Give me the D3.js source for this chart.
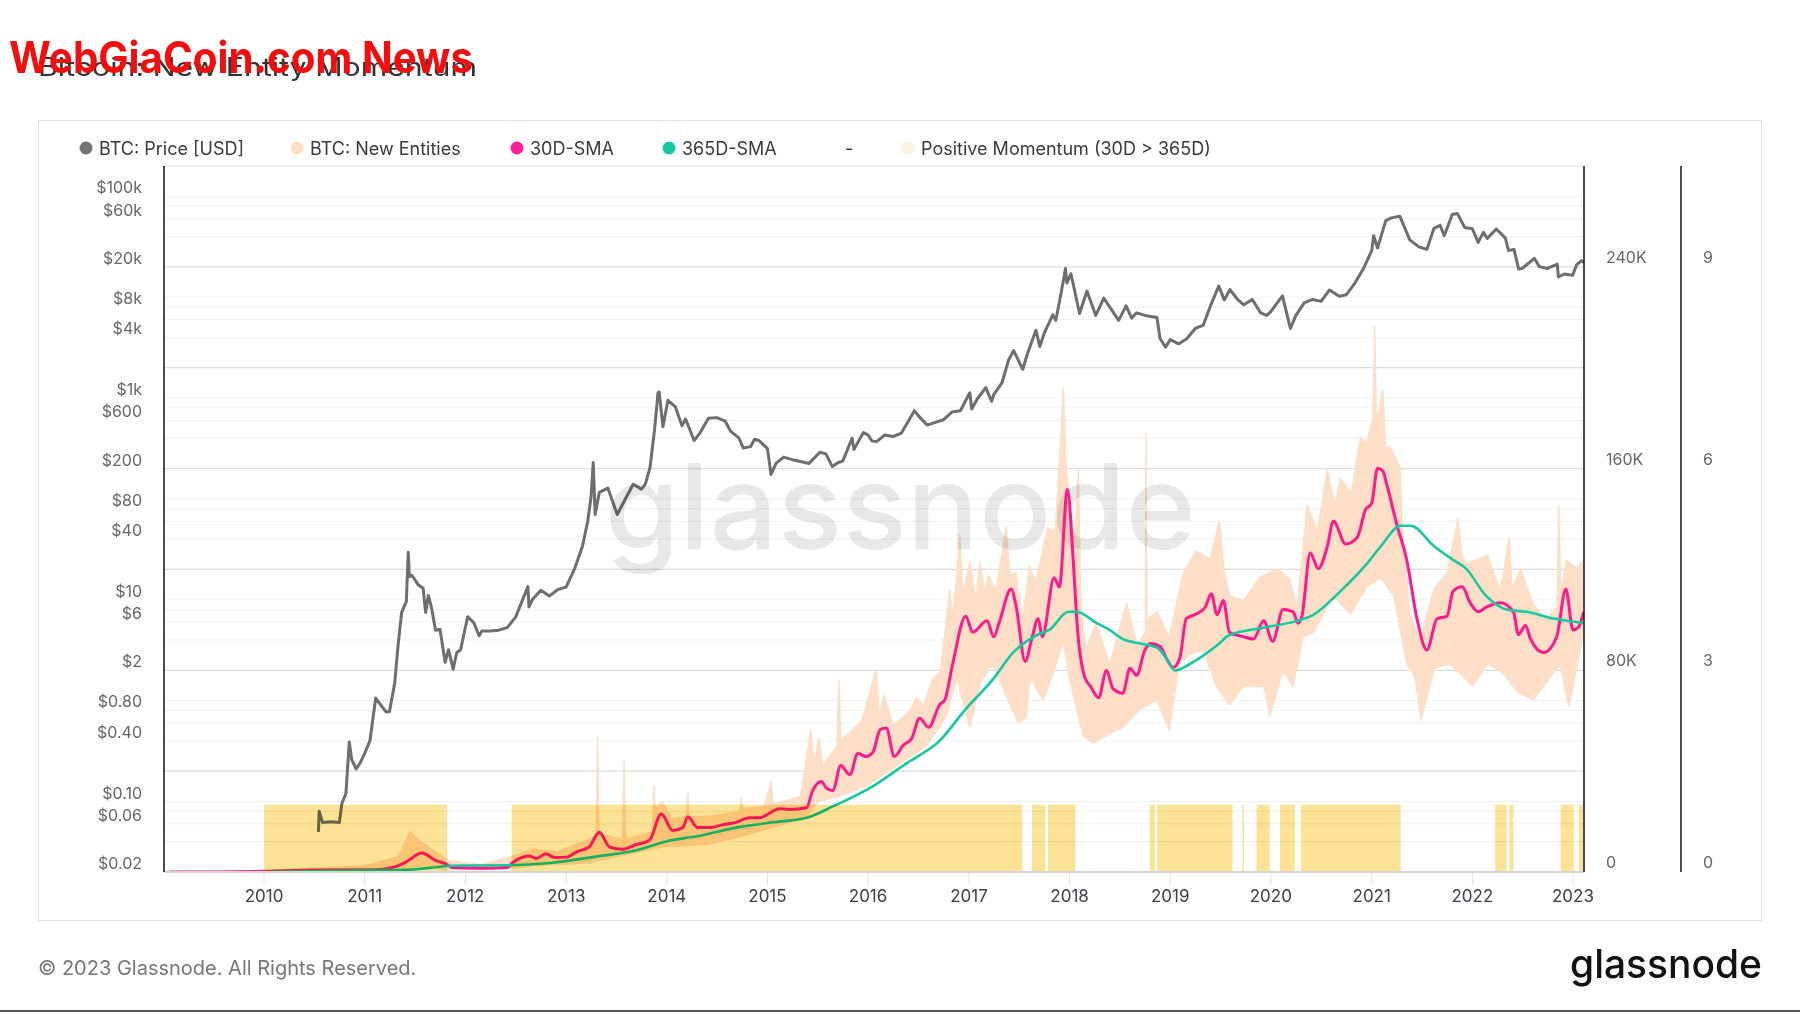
<!DOCTYPE html>
<html>
<head>
<meta charset="utf-8">
<script src="https://cdn.jsdelivr.net/npm/d3@7"></script>
<style>
  body { margin: 0; background: #fff; }
  text { font-family: Inter, "Noto Sans", sans-serif; }
</style>
</head>
<body>
<svg id="chart" width="1800" height="1013"></svg>
<script>
// BTC price [USD]
const price = [
  ["2010-07-17", 0.05], ["2010-07-20", 0.08], ["2010-08-01", 0.062], ["2010-09-01", 0.063], ["2010-10-01", 0.062],
  ["2010-10-10", 0.095], ["2010-10-25", 0.12], ["2010-11-06", 0.39], ["2010-11-15", 0.26], ["2010-12-01", 0.21],
  ["2010-12-15", 0.24], ["2011-01-01", 0.30], ["2011-01-20", 0.40], ["2011-02-10", 1.06], ["2011-03-01", 0.90],
  ["2011-03-20", 0.77], ["2011-04-01", 0.78], ["2011-04-20", 1.5], ["2011-05-01", 3.3], ["2011-05-15", 7.5],
  ["2011-06-01", 9.6], ["2011-06-08", 29.6], ["2011-06-12", 17], ["2011-06-20", 17.5], ["2011-07-01", 16],
  ["2011-07-15", 14], ["2011-08-01", 13], ["2011-08-10", 7.5], ["2011-08-20", 11], ["2011-09-01", 8.2],
  ["2011-09-15", 5.0], ["2011-10-01", 5.1], ["2011-10-20", 2.4], ["2011-11-01", 3.2], ["2011-11-18", 2.05],
  ["2011-12-01", 3.0], ["2011-12-15", 3.2], ["2012-01-01", 5.3], ["2012-01-10", 6.8], ["2012-02-01", 5.9],
  ["2012-02-20", 4.4], ["2012-03-01", 4.9], ["2012-04-01", 4.9], ["2012-05-01", 5.0], ["2012-06-01", 5.3],
  ["2012-07-01", 6.7], ["2012-08-15", 13.5], ["2012-08-19", 8.5], ["2012-09-01", 10.1], ["2012-10-01", 12.4],
  ["2012-11-01", 10.9], ["2012-12-01", 12.6], ["2013-01-01", 13.4], ["2013-02-01", 20.5], ["2013-03-01", 34],
  ["2013-03-20", 60], ["2013-04-01", 104], ["2013-04-09", 230], ["2013-04-16", 70], ["2013-05-01", 116],
  ["2013-06-01", 128], ["2013-07-05", 70], ["2013-08-01", 97], ["2013-09-01", 140], ["2013-10-01", 125],
  ["2013-10-15", 140], ["2013-11-01", 205], ["2013-11-18", 500], ["2013-11-30", 1130], ["2013-12-04", 1150],
  ["2013-12-18", 520], ["2014-01-05", 950], ["2014-02-01", 820], ["2014-02-25", 530], ["2014-03-10", 620],
  ["2014-04-10", 380], ["2014-05-01", 450], ["2014-06-01", 630], ["2014-07-01", 640], ["2014-08-01", 590],
  ["2014-08-20", 470], ["2014-09-20", 400], ["2014-10-05", 320], ["2014-11-01", 330], ["2014-11-15", 390],
  ["2014-12-01", 380], ["2015-01-01", 315], ["2015-01-14", 175], ["2015-02-01", 225], ["2015-03-01", 260],
  ["2015-04-01", 245], ["2015-05-01", 235], ["2015-06-01", 225], ["2015-07-10", 290], ["2015-08-01", 280],
  ["2015-08-24", 210], ["2015-09-15", 230], ["2015-10-01", 237], ["2015-11-04", 400], ["2015-11-11", 310],
  ["2015-12-15", 455], ["2016-01-01", 430], ["2016-01-15", 375], ["2016-02-01", 370], ["2016-03-01", 430],
  ["2016-04-01", 416], ["2016-05-01", 450], ["2016-06-17", 750], ["2016-07-01", 670], ["2016-08-02", 540],
  ["2016-09-01", 575], ["2016-10-01", 610], ["2016-11-01", 730], ["2016-12-01", 750], ["2017-01-04", 1130],
  ["2017-01-11", 780], ["2017-02-01", 990], ["2017-03-03", 1270], ["2017-03-24", 930], ["2017-04-01", 1080],
  ["2017-05-01", 1420], ["2017-05-25", 2400], ["2017-06-12", 2950], ["2017-07-15", 1930], ["2017-08-01", 2750],
  ["2017-09-01", 4700], ["2017-09-15", 3250], ["2017-10-01", 4400], ["2017-11-01", 6700], ["2017-11-12", 5900],
  ["2017-12-01", 10900], ["2017-12-17", 19300], ["2017-12-22", 13800], ["2018-01-06", 17100], ["2018-02-06", 6900],
  ["2018-03-05", 11500], ["2018-04-06", 6600], ["2018-05-05", 9800], ["2018-06-28", 5900], ["2018-07-25", 8200],
  ["2018-08-14", 6200], ["2018-09-01", 7000], ["2018-10-01", 6600], ["2018-11-14", 6300], ["2018-11-25", 3900],
  ["2018-12-15", 3200], ["2019-01-01", 3800], ["2019-02-01", 3450], ["2019-03-01", 3850], ["2019-04-02", 4900],
  ["2019-05-01", 5300], ["2019-05-30", 8600], ["2019-06-26", 12900], ["2019-07-16", 9400], ["2019-08-06", 11900],
  ["2019-09-01", 9600], ["2019-09-25", 8400], ["2019-10-26", 9500], ["2019-11-25", 7000], ["2019-12-17", 6600],
  ["2020-01-01", 7200], ["2020-02-12", 10300], ["2020-03-12", 4900], ["2020-04-01", 6600], ["2020-05-01", 8800],
  ["2020-06-01", 9500], ["2020-07-01", 9100], ["2020-08-01", 11800], ["2020-09-05", 10200], ["2020-10-01", 10600],
  ["2020-11-01", 13800], ["2020-12-01", 19000], ["2021-01-01", 29000], ["2021-01-08", 40700], ["2021-01-22", 30800],
  ["2021-02-21", 57500], ["2021-03-13", 61200], ["2021-04-13", 63500], ["2021-05-19", 37000], ["2021-06-21", 31600],
  ["2021-07-20", 29800], ["2021-08-14", 47800], ["2021-09-06", 51700], ["2021-09-21", 40700], ["2021-10-20", 66000],
  ["2021-11-08", 67500], ["2021-12-04", 49200], ["2022-01-01", 47700], ["2022-01-22", 35000], ["2022-02-10", 44000],
  ["2022-02-24", 38300], ["2022-03-29", 47400], ["2022-05-01", 38500], ["2022-05-12", 29000], ["2022-06-01", 29800],
  ["2022-06-18", 19000], ["2022-07-01", 19300], ["2022-08-14", 24300], ["2022-09-01", 20100], ["2022-10-01", 19300],
  ["2022-11-05", 21300], ["2022-11-09", 15900], ["2022-12-01", 17000], ["2022-12-31", 16550], ["2023-01-14", 20900],
  ["2023-02-01", 23100], ["2023-02-09", 22000]
];

// BTC: New Entities, daily noise drawn as an upper / lower envelope
const entHigh = [
  ["2009-01-03", 200], ["2010-01-01", 500], ["2010-07-01", 1500], ["2011-01-01", 2500], ["2011-05-01", 6000],
  ["2011-06-15", 16000], ["2011-07-25", 12000], ["2011-09-01", 9000], ["2011-11-01", 4500], ["2012-03-01", 3000],
  ["2012-06-15", 6000], ["2012-09-01", 9000], ["2012-12-01", 8000], ["2013-03-01", 12000], ["2013-04-20", 14000],
  ["2013-04-25", 53500], ["2013-04-30", 15000], ["2013-07-25", 13000], ["2013-07-30", 44000], ["2013-08-04", 13000],
  ["2013-11-10", 16000], ["2013-11-15", 34100], ["2013-11-20", 25000], ["2013-12-15", 28000], ["2014-01-20", 21000],
  ["2014-03-13", 22000], ["2014-03-18", 31400], ["2014-03-23", 22000], ["2014-06-01", 22000], ["2014-09-23", 24000],
  ["2014-09-28", 29600], ["2014-10-03", 25000], ["2014-12-20", 26000], ["2015-01-15", 36000], ["2015-01-20", 27000],
  ["2015-05-01", 30000], ["2015-06-07", 56500], ["2015-06-20", 42000], ["2015-07-06", 53000], ["2015-07-20", 42000],
  ["2015-09-10", 50000], ["2015-09-17", 76300], ["2015-09-24", 52000], ["2015-11-20", 58000], ["2015-12-10", 60000],
  ["2016-01-30", 80000], ["2016-02-10", 62000], ["2016-02-28", 70000], ["2016-04-01", 58000], ["2016-06-01", 64000],
  ["2016-06-24", 69100], ["2016-07-20", 66000], ["2016-08-22", 76300], ["2016-09-20", 80000], ["2016-10-23", 112000],
  ["2016-11-05", 100000], ["2016-11-28", 133700], ["2016-12-10", 110000], ["2017-01-04", 122900], ["2017-01-25", 108000],
  ["2017-02-10", 122900], ["2017-03-01", 110000], ["2017-03-11", 117600], ["2017-04-10", 112000], ["2017-05-16", 137300],
  ["2017-05-28", 118000], ["2017-06-21", 118500], ["2017-07-15", 100000], ["2017-08-08", 121000], ["2017-09-01", 115000],
  ["2017-10-12", 136400], ["2017-11-10", 135000], ["2017-12-02", 176000], ["2017-12-09", 192000], ["2017-12-20", 160000],
  ["2018-01-04", 144000], ["2018-01-20", 130000], ["2018-02-02", 159700], ["2018-02-10", 110000], ["2018-02-27", 88000],
  ["2018-04-08", 98700], ["2018-05-26", 82000], ["2018-07-27", 106800], ["2018-09-02", 90000], ["2018-10-03", 95000],
  ["2018-10-05", 174100], ["2018-10-08", 100000], ["2018-11-14", 103200], ["2018-12-28", 93000], ["2019-02-17", 118500],
  ["2019-04-05", 127400], ["2019-05-26", 124000], ["2019-06-29", 139100], ["2019-07-15", 120000], ["2019-08-04", 109500],
  ["2019-09-24", 107700], ["2019-11-21", 116700], ["2020-01-22", 120300], ["2020-03-10", 116000], ["2020-04-05", 104100],
  ["2020-05-12", 145400], ["2020-06-18", 135000], ["2020-07-24", 159700], ["2020-08-20", 145000], ["2020-09-09", 156000],
  ["2020-10-19", 150000], ["2020-11-21", 172300], ["2020-12-13", 170000], ["2021-01-05", 180000], ["2021-01-12", 216300],
  ["2021-01-18", 178000], ["2021-02-10", 191000], ["2021-02-20", 168000], ["2021-03-07", 168700], ["2021-04-13", 160600],
  ["2021-04-25", 130000], ["2021-05-19", 102300], ["2021-06-25", 92000], ["2021-08-15", 112200], ["2021-10-01", 118500],
  ["2021-11-10", 140000], ["2021-11-25", 125000], ["2021-12-13", 122100], ["2022-02-24", 125700], ["2022-04-13", 111300],
  ["2022-05-15", 132800], ["2022-05-25", 112000], ["2022-06-24", 120000], ["2022-08-11", 105900], ["2022-09-27", 100500],
  ["2022-11-05", 105000], ["2022-11-10", 145400], ["2022-11-18", 110000], ["2022-12-09", 123800], ["2023-01-15", 120300],
  ["2023-02-09", 124000]
];
const entLow = [
  ["2009-01-03", 0], ["2010-07-01", 100], ["2011-05-01", 800], ["2011-07-25", 2500], ["2011-11-01", 800],
  ["2012-06-15", 1200], ["2012-09-01", 2500], ["2013-03-01", 3500], ["2013-05-15", 5000], ["2013-12-15", 10000],
  ["2014-06-01", 11000], ["2014-09-21", 14000], ["2015-05-19", 21500], ["2015-07-06", 28000], ["2015-09-17", 30000],
  ["2015-12-24", 34000], ["2016-04-01", 41300], ["2016-07-30", 50000], ["2016-10-12", 62000], ["2016-11-18", 77200],
  ["2017-01-04", 57400], ["2017-02-10", 75000], ["2017-03-28", 82600], ["2017-06-28", 59200], ["2017-07-27", 61000],
  ["2017-08-11", 77200], ["2017-09-27", 68200], ["2017-11-03", 79000], ["2017-12-09", 91500], ["2018-01-04", 75000],
  ["2018-02-20", 53800], ["2018-03-28", 51100], ["2018-05-26", 54800], ["2018-07-13", 57400], ["2018-09-13", 64600],
  ["2018-11-14", 68200], ["2018-12-28", 56500], ["2019-02-03", 82600], ["2019-03-11", 86100], ["2019-05-01", 88000],
  ["2019-06-18", 73600], ["2019-08-04", 66400], ["2019-09-24", 73600], ["2019-12-06", 73600], ["2019-12-28", 61900],
  ["2020-02-14", 79900], ["2020-03-21", 73600], ["2020-04-27", 93300], ["2020-06-03", 95100], ["2020-08-15", 109500],
  ["2020-10-16", 102300], ["2020-12-13", 113100], ["2021-02-03", 116700], ["2021-03-22", 109500], ["2021-05-08", 82600],
  ["2021-06-07", 77200], ["2021-06-29", 60100], ["2021-08-15", 80800], ["2021-10-12", 82600], ["2022-01-04", 73600],
  ["2022-02-24", 82600], ["2022-04-23", 79000], ["2022-06-10", 71800], ["2022-08-11", 68200], ["2022-09-27", 75400],
  ["2022-11-14", 82600], ["2022-12-17", 65500], ["2023-02-09", 95100]
];

// 30D-SMA of new entities
const sma30 = [
  ["2009-01-20", 0], ["2009-06-01", 0], ["2010-01-01", 300], ["2010-07-01", 800], ["2011-01-31", 900],
  ["2011-04-12", 1800], ["2011-05-30", 3900], ["2011-07-27", 7500], ["2011-09-17", 4500], ["2011-10-23", 3200],
  ["2011-11-15", 1800], ["2012-03-01", 1500], ["2012-06-01", 1800], ["2012-06-20", 3600], ["2012-08-20", 6300],
  ["2012-09-15", 5400], ["2012-10-19", 7200], ["2012-11-20", 5800], ["2013-01-01", 5900], ["2013-02-10", 8100],
  ["2013-03-25", 9900], ["2013-05-01", 15800], ["2013-06-07", 9900], ["2013-07-24", 9000], ["2013-09-10", 10800],
  ["2013-10-30", 12600], ["2013-12-12", 23000], ["2014-01-22", 16500], ["2014-02-28", 17600], ["2014-03-18", 21900],
  ["2014-04-23", 17600], ["2014-06-07", 17600], ["2014-07-24", 18800], ["2014-09-09", 19700], ["2014-10-27", 21500],
  ["2014-12-02", 21500], ["2015-02-14", 25100], ["2015-03-20", 24800], ["2015-05-23", 25500], ["2015-06-14", 32300],
  ["2015-07-16", 35900], ["2015-08-01", 33500], ["2015-08-26", 32300], ["2015-09-24", 42200], ["2015-10-27", 38600],
  ["2015-11-25", 47100], ["2015-12-24", 45800], ["2016-01-19", 47600], ["2016-02-14", 56500], ["2016-03-07", 57100],
  ["2016-04-05", 45800], ["2016-05-08", 50300], ["2016-06-07", 52900], ["2016-07-06", 61000], ["2016-08-08", 57400],
  ["2016-09-17", 66400], ["2016-10-05", 68200], ["2016-11-03", 82600], ["2016-12-20", 101400], ["2017-01-15", 95100],
  ["2017-03-07", 99600], ["2017-04-01", 93300], ["2017-04-20", 98700], ["2017-06-03", 112200], ["2017-06-20", 106000],
  ["2017-07-24", 83500], ["2017-08-18", 93000], ["2017-09-09", 100500], ["2017-09-24", 93300], ["2017-11-06", 116700],
  ["2017-11-25", 113000], ["2017-12-24", 151700], ["2018-01-15", 122100], ["2018-01-28", 98700], ["2018-02-25", 77200],
  ["2018-03-18", 73600], ["2018-04-16", 69100], ["2018-05-15", 79900], ["2018-06-07", 72700], ["2018-07-13", 70900],
  ["2018-08-08", 80800], ["2018-09-01", 78000], ["2018-10-01", 88000], ["2018-10-23", 90600], ["2018-11-25", 89400],
  ["2018-12-20", 84400], ["2019-01-11", 81100], ["2019-02-05", 85000], ["2019-02-28", 100500], ["2019-04-05", 102300],
  ["2019-05-08", 105000], ["2019-05-30", 110400], ["2019-06-20", 102000], ["2019-07-13", 107700], ["2019-08-04", 95100],
  ["2019-09-24", 93300], ["2019-10-30", 92400], ["2019-12-06", 99600], ["2020-01-08", 91500], ["2020-02-14", 104100],
  ["2020-03-22", 103200], ["2020-04-08", 98700], ["2020-04-22", 101000], ["2020-05-23", 126500], ["2020-06-21", 120300],
  ["2020-07-24", 129200], ["2020-08-15", 139100], ["2020-09-28", 130100], ["2020-11-10", 132800], ["2020-12-09", 143600],
  ["2021-01-01", 146300], ["2021-01-22", 160100], ["2021-02-10", 159000], ["2021-02-25", 153500], ["2021-04-01", 138200],
  ["2021-05-08", 123800], ["2021-06-14", 100500], ["2021-07-20", 88000], ["2021-08-26", 100500], ["2021-10-01", 101400],
  ["2021-10-23", 111300], ["2021-11-25", 113100], ["2021-12-24", 106800], ["2022-01-22", 103200], ["2022-02-20", 105000],
  ["2022-04-12", 106800], ["2022-05-30", 103200], ["2022-06-17", 94200], ["2022-07-13", 97800], ["2022-07-31", 92400],
  ["2022-09-17", 87000], ["2022-11-03", 93300], ["2022-12-06", 112200], ["2023-01-01", 96000], ["2023-01-20", 97000],
  ["2023-02-09", 103200]
];

// 365D-SMA of new entities
const sma365 = [
  ["2010-01-01", 0], ["2010-07-01", 400], ["2011-01-01", 700], ["2011-06-01", 900], ["2011-09-24", 2000],
  ["2011-11-03", 2500], ["2012-06-07", 2700], ["2012-11-03", 3600], ["2013-05-01", 6300], ["2013-09-13", 8600],
  ["2014-01-01", 12200], ["2014-05-01", 14400], ["2014-09-24", 17900], ["2015-01-22", 19700], ["2015-05-23", 21500],
  ["2015-08-26", 26000], ["2016-01-19", 34100], ["2016-05-19", 43100], ["2016-09-17", 52100], ["2016-12-20", 64600],
  ["2017-03-28", 76300], ["2017-06-10", 87000], ["2017-09-09", 94200], ["2017-10-19", 96000], ["2017-12-28", 103200],
  ["2018-01-26", 103200], ["2018-04-09", 98700], ["2018-05-26", 96000], ["2018-07-13", 92400], ["2018-09-13", 90600],
  ["2018-11-14", 89000], ["2018-12-20", 84400], ["2019-01-19", 79900], ["2019-03-15", 82600], ["2019-06-18", 89700],
  ["2019-08-04", 94000], ["2019-12-06", 96900], ["2020-04-05", 99600], ["2020-06-03", 102000], ["2020-09-09", 111300],
  ["2020-12-13", 122100], ["2021-02-03", 129200], ["2021-04-16", 137300], ["2021-05-23", 137300], ["2021-08-15", 129200],
  ["2021-10-23", 123800], ["2021-12-09", 120300], ["2022-02-20", 109500], ["2022-05-05", 104100], ["2022-07-16", 103200],
  ["2022-10-23", 100500], ["2023-02-09", 98700]
];

// Positive Momentum (30D > 365D), value 1 on the third axis
const momentum = [
  ["2010-01-01", "2011-10-27"], ["2012-06-17", "2017-07-13"], ["2017-08-18", "2017-10-05"], ["2017-10-15", "2018-01-22"],
  ["2018-10-19", "2018-11-06"], ["2018-11-14", "2019-08-15"], ["2019-09-20", "2019-09-22"], ["2019-11-10", "2019-12-28"],
  ["2020-02-03", "2020-03-28"], ["2020-04-20", "2021-04-16"], ["2022-03-25", "2022-05-05"], ["2022-05-15", "2022-05-30"],
  ["2022-11-17", "2023-01-04"], ["2023-01-22", "2023-02-07"]
];
const momentumValue = 1;

// tick labels
const priceTicks = [0.02, 0.06, 0.1, 0.4, 0.8, 2, 6, 10, 40, 80, 200, 600, 1000, 4000, 8000, 20000, 60000, 100000];
const entityTicks = [0, 80000, 160000, 240000];
const momentumTicks = [0, 3, 6, 9];

const legendItems = [
  { label: "BTC: Price [USD]", color: "#747474", x: 86 },
  { label: "BTC: New Entities", color: "#fde0c8", x: 297 },
  { label: "30D-SMA", color: "#ff1f96", x: 517 },
  { label: "365D-SMA", color: "#14c9a0", x: 669 },
  { label: "-", color: "none", x: 845 },
  { label: "Positive Momentum (30D > 365D)", color: "#fdf3dc", x: 908 }
];

const parse = d3.timeParse("%Y-%m-%d");
const svg = d3.select("#chart");

const plotLeft = 164, plotRight = 1584, plotTop = 166, plotBottom = 872;

const x = d3.scaleTime()
  .domain([parse("2009-01-03"), parse("2023-02-10")])
  .range([plotLeft, plotRight]);
const yPrice = d3.scaleLog().domain([0.02, 200000]).range([plotBottom, plotTop]);
const yEnt = d3.scaleLinear().domain([0, 280000]).range([plotBottom, plotTop]);
const yMom = d3.scaleLinear().domain([0, 10.5]).range([plotBottom, plotTop]);

svg.append("rect").attr("width", 1800).attr("height", 1013).attr("fill", "#fff");

// title
svg.append("text").attr("x", 38).attr("y", 76)
  .attr("font-size", 25).attr("fill", "#333")
  .attr("textLength", 439).attr("lengthAdjust", "spacingAndGlyphs")
  .text("Bitcoin: New Entity Momentum");

// card
svg.append("rect")
  .attr("x", 38.5).attr("y", 120.5).attr("width", 1723).attr("height", 800)
  .attr("fill", "none").attr("stroke", "#e3e3e3");

// legend
const legend = svg.append("g").attr("transform", "translate(0,148)");
legendItems.forEach(d => {
  if (d.color !== "none") {
    legend.append("circle").attr("cx", d.x).attr("cy", 0).attr("r", 6.5).attr("fill", d.color);
  }
  legend.append("text")
    .attr("x", d.color === "none" ? d.x : d.x + 13).attr("y", 0)
    .attr("dominant-baseline", "central")
    .attr("font-size", 18).attr("fill", "#3a3a3a")
    .text(d.label);
});

// grid lines: decades of the price axis (from $0.02) with 2..5 minors
const majors = d3.range(0, 8).map(k => 0.02 * Math.pow(10, k));
const minors = [];
majors.slice(0, 7).forEach(m => [2, 3, 4, 5].forEach(f => minors.push(m * f)));

const grid = svg.append("g");
grid.selectAll(".minor").data(minors).join("line")
  .attr("x1", plotLeft).attr("x2", plotRight)
  .attr("y1", d => yPrice(d)).attr("y2", d => yPrice(d))
  .attr("stroke", "#f1f1f1").attr("stroke-width", 1);
grid.selectAll(".major").data(majors.slice(1)).join("line")
  .attr("x1", plotLeft).attr("x2", plotRight)
  .attr("y1", d => yPrice(d)).attr("y2", d => yPrice(d))
  .attr("stroke", "#dcdcdc").attr("stroke-width", 1.2);

svg.append("clipPath").attr("id", "clip")
  .append("rect").attr("x", plotLeft).attr("y", plotTop)
  .attr("width", plotRight - plotLeft).attr("height", plotBottom - plotTop);
const plot = svg.append("g").attr("clip-path", "url(#clip)");

// price
const priceLine = d3.line()
  .x(d => x(parse(d[0])))
  .y(d => yPrice(d[1]));
plot.append("path").datum(price)
  .attr("d", priceLine)
  .attr("fill", "none").attr("stroke", "#6e6e6e").attr("stroke-width", 3).attr("stroke-linejoin", "round");

// new entities envelope
const band = entHigh.map(d => [x(parse(d[0])), yEnt(d[1])])
  .concat(entLow.slice().reverse().map(d => [x(parse(d[0])), yEnt(d[1])]));
plot.append("path")
  .attr("d", d3.line()(band) + "Z")
  .attr("fill", "#fddfc8").attr("stroke", "#fddfc8").attr("stroke-width", 1.5);

// watermark
svg.append("text")
  .attr("x", 605).attr("y", 549)
  .attr("font-size", 118).attr("font-weight", 500)
  .attr("fill", "#000").attr("fill-opacity", 0.09)
  .attr("textLength", 591).attr("lengthAdjust", "spacingAndGlyphs")
  .text("glassnode");

// SMAs
const entLine = d3.line()
  .x(d => x(parse(d[0])))
  .y(d => yEnt(d[1]))
  .curve(d3.curveMonotoneX);
const lines = svg.append("g").attr("clip-path", "url(#clip)");
lines.append("path").datum(sma30)
  .attr("d", entLine)
  .attr("fill", "none").attr("stroke", "#ff1a8c").attr("stroke-width", 3).attr("stroke-linejoin", "round");
lines.append("path").datum(sma365)
  .attr("d", entLine)
  .attr("fill", "none").attr("stroke", "#14c8a0").attr("stroke-width", 2.6);

// positive momentum
svg.append("g").style("mix-blend-mode", "multiply")
  .selectAll("rect").data(momentum).join("rect")
  .attr("x", d => x(parse(d[0])))
  .attr("width", d => Math.max(1.5, x(parse(d[1])) - x(parse(d[0]))))
  .attr("y", yMom(momentumValue))
  .attr("height", yMom(0) - yMom(momentumValue))
  .attr("fill", "#f9cf4f").attr("fill-opacity", 0.6);

// axes lines
svg.append("line").attr("x1", plotLeft).attr("x2", plotRight).attr("y1", plotBottom).attr("y2", plotBottom)
  .attr("stroke", "#d4d4d4").attr("stroke-width", 2);
[plotLeft, plotRight, 1681].forEach(xx => {
  svg.append("line").attr("x1", xx).attr("x2", xx).attr("y1", plotTop).attr("y2", plotBottom)
    .attr("stroke", "#111").attr("stroke-width", 1.5);
});

// left price labels
svg.append("g").selectAll("text").data(priceTicks).join("text")
  .attr("x", 142).attr("y", d => yPrice(d) - 9)
  .attr("text-anchor", "end").attr("dominant-baseline", "central")
  .attr("font-size", 16).attr("fill", "#666")
  .text(d => d >= 1000 ? "$" + d / 1000 + "k" : d < 1 ? "$" + d.toFixed(2) : "$" + d);

// right axes labels
svg.append("g").selectAll("text").data(entityTicks).join("text")
  .attr("x", 1606).attr("y", d => yEnt(d) - 10)
  .attr("dominant-baseline", "central")
  .attr("font-size", 16).attr("fill", "#666")
  .text(d => d === 0 ? "0" : d / 1000 + "K");
svg.append("g").selectAll("text").data(momentumTicks).join("text")
  .attr("x", 1703).attr("y", d => yMom(d) - 10)
  .attr("dominant-baseline", "central")
  .attr("font-size", 16).attr("fill", "#666")
  .text(d => d);

// x axis
const years = x.ticks(d3.timeYear.every(1));
const xAxis = svg.append("g");
xAxis.selectAll("line").data(years).join("line")
  .attr("x1", d => x(d)).attr("x2", d => x(d)).attr("y1", plotBottom + 1).attr("y2", plotBottom + 13)
  .attr("stroke", "#e2e2e2");
xAxis.selectAll("text").data(years).join("text")
  .attr("x", d => x(d)).attr("y", 896)
  .attr("text-anchor", "middle").attr("dominant-baseline", "central")
  .attr("font-size", 17).attr("fill", "#3d3d4d")
  .text(d3.timeFormat("%Y"));

// footer
svg.append("text").attr("x", 38).attr("y", 968)
  .attr("dominant-baseline", "central")
  .attr("font-size", 20).attr("fill", "#777")
  .text("\u00a9 2023 Glassnode. All Rights Reserved.");
svg.append("text").attr("x", 1762).attr("y", 978)
  .attr("text-anchor", "end")
  .attr("font-size", 40).attr("font-weight", 500).attr("fill", "#111")
  .attr("textLength", 192).attr("lengthAdjust", "spacingAndGlyphs")
  .text("glassnode");

// red site stamp over the title, as in the picture
svg.append("text").attr("x", 9).attr("y", 73)
  .attr("font-family", "'DejaVu Sans Condensed', 'Liberation Sans Narrow', sans-serif")
  .attr("font-size", 44).attr("font-weight", 700).attr("fill", "#f50d0d")
  .attr("textLength", 464).attr("lengthAdjust", "spacingAndGlyphs")
  .text("WebGiaCoin.com News");

svg.append("rect").attr("x", 0).attr("y", 1010).attr("width", 1800).attr("height", 2).attr("fill", "#555");
</script>
</body>
</html>
